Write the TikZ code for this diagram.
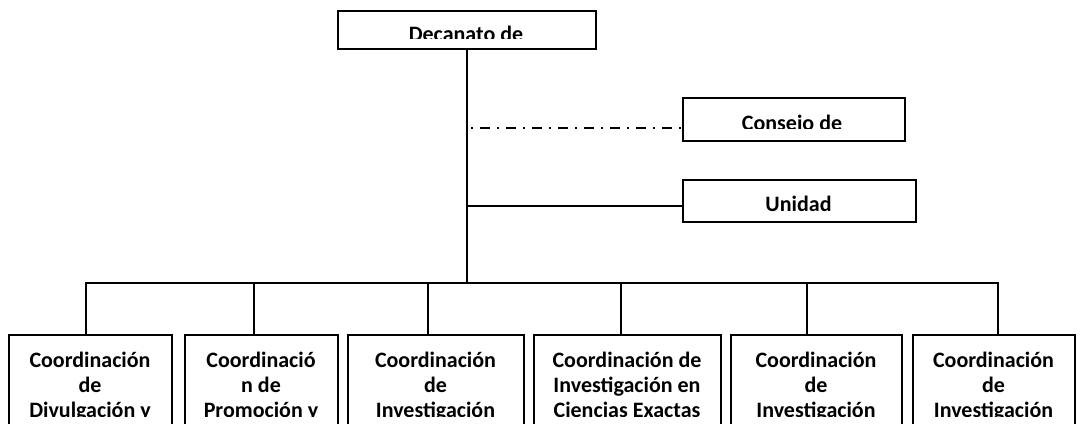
\documentclass[tikz,border=0pt]{standalone}
\usepackage{fontspec}
\setmainfont{Carlito}
\usetikzlibrary{positioning}

\begin{document}
\begin{tikzpicture}[x=1pt, y=-1pt,
  box/.style={rectangle, draw, line width=2pt, inner sep=0pt},
  lbl/.style={font=\bfseries\fontsize{22}{25}\selectfont, align=center,
    inner sep=0pt, anchor=base},
  link/.style={line width=1.6pt},
  dashdot/.style={line width=1.3pt, dash pattern=on 2pt off 7pt on 10pt off 7pt,
    dash phase=-4pt},
]
\useasboundingbox (0,0) rectangle (1081,423);
\clip (0,0) rectangle (1081,423);

% upper boxes
\node[box, minimum width=258, minimum height=38] (dec) at (467,29.5) {};
\node[box, minimum width=222, minimum height=43] (con) at (793.5,119) {};
\node[box, minimum width=233, minimum height=42] (uni) at (799,200.5) {};

\begin{scope}
  \clip (337,10) rectangle (597,38.5);
  \node[lbl] (tdec) at (466,41.5) {Decanato de};
\end{scope}
\begin{scope}
  \clip (682,97) rectangle (905,128.5);
  \node[lbl] (tcon) at (792,130) {Conseio de};
\end{scope}
\node[lbl] (tuni) at (798.5,211) {Unidad};

% lower boxes
\foreach \n/\cx/\w in {b1/90/163, b2/261/153, b3/435.5/176,
                       b4/627/187, b5/816/171, b6/993.5/162}
  \node[box, minimum width=\w, minimum height=125] (\n) at (\cx,397.5) {};

\begin{scope}
  \clip (0,0) rectangle (1081,416);
  \node[lbl] (t1) at ([yshift=-83.3pt]b1.north) {Coordinación\\de\\Divulgación y};
  \node[lbl] (t2) at ([yshift=-83.3pt]b2.north) {Coordinació\\n de\\Promoción y};
  \node[lbl] (t3) at ([yshift=-83.3pt]b3.north) {Coordinación\\de\\Investigación};
  \node[lbl] (t4) at ([yshift=-83.3pt]b4.north) {Coordinación de\\Investigación en\\Ciencias Exactas};
  \node[lbl] (t5) at ([yshift=-83.3pt]b5.north) {Coordinación\\de\\Investigación};
  \node[lbl] (t6) at ([yshift=-83.3pt]b6.north) {Coordinación\\de\\Investigación};
\end{scope}

% connectors
\coordinate (busl) at (86,283);
\coordinate (busr) at (998,283);
\draw[link] (dec.south) -- (dec.south |- busl);
\draw[dashdot] ([yshift=-9pt]con.west -| dec.south) -- ([yshift=-9pt]con.west);
\draw[link] ([yshift=-5.5pt]uni.west) -- ++(-215,0);
\draw[link] (busl) -- (busr);
\foreach \n/\dx in {b1/-4, b2/-7, b3/-7.5, b4/-6, b5/-9, b6/4.5}
  \draw[link] ([xshift=\dx pt]\n.north) -- ++(0,-52);
\end{tikzpicture}
\end{document}
